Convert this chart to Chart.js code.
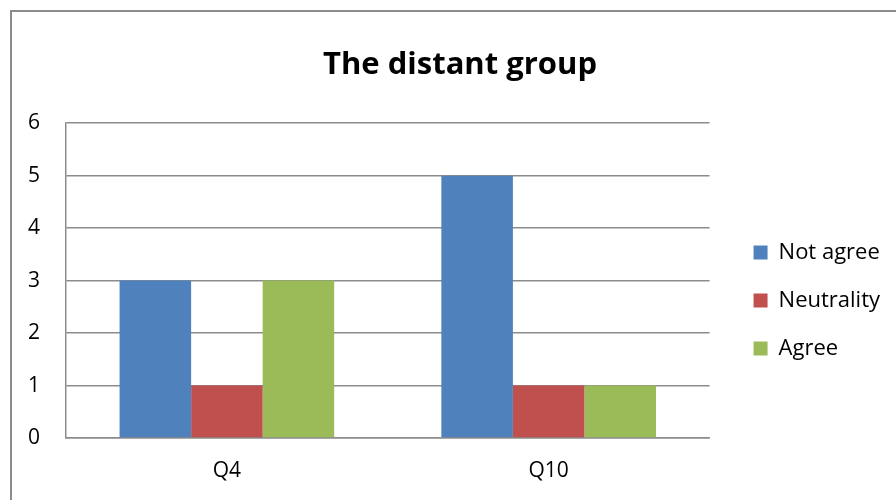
<!DOCTYPE html>
<html>
<head>
<meta charset="utf-8">
<script src="https://cdn.jsdelivr.net/npm/chart.js@4/dist/chart.umd.min.js"></script>
<style>
  body { margin: 0; background: #fff; }
  #wrap { position: relative; width: 896px; height: 500px; overflow: hidden; }
  #frame { position: absolute; left: 10px; top: 10px; width: 1000px; height: 600px; border: 2px solid #8c8c8c; }
  canvas { position: absolute; left: 0; top: 0; }
</style>
</head>
<body>
<div id="wrap">
  <div id="frame"></div>
  <canvas id="chart" width="896" height="500"></canvas>
</div>
<script>
const categories = ["Q4", "Q10"];
const notAgree = [3, 5];
const neutrality = [1, 1];
const agree = [3, 1];
const seriesNames = ["Not agree", "Neutrality", "Agree"];
const yTicks = [0, 1, 2, 3, 4, 5, 6];

const font = "'Open Sans', sans-serif";
const gridColor = "#8c8c8c";

// nudge legend and title a bit, like the Excel layout
const boxShift = {
    id: "boxShift",
    afterLayout: (chart) => {
        const lg = chart.legend;
        lg.left += 18; lg.right += 18;
        lg.top += 20; lg.bottom += 20;
        const tb = chart.titleBlock;
        tb.left += 12; tb.right += 12;
    },
};

const ctx = document.getElementById("chart").getContext("2d");

new Chart(ctx, {
    type: "bar",
    data: {
        labels: categories,
        datasets: [
            { label: seriesNames[0], data: notAgree, backgroundColor: "#4f81bd" },
            { label: seriesNames[1], data: neutrality, backgroundColor: "#c0504d" },
            { label: seriesNames[2], data: agree, backgroundColor: "#9bbb59" },
        ],
    },
    options: {
        responsive: false,
        animation: false,
        layout: { padding: { left: 24, top: 47, right: 24, bottom: 0 } },
        datasets: {
            bar: { barPercentage: 1, categoryPercentage: 0.667 },
        },
        plugins: {
            title: {
                display: true,
                text: "The distant group",
                color: "#000",
                font: { family: font, size: 31, weight: "bold" },
                padding: { top: 0, bottom: 39 },
            },
            legend: {
                position: "right",
                fullSize: false,
                labels: {
                    color: "#000",
                    font: { family: font, size: 22 },
                    boxWidth: 14,
                    boxHeight: 14,
                    padding: 26,
                },
            },
            tooltip: { enabled: false },
        },
        scales: {
            x: {
                afterFit: (scale) => {
                    scale.height = 62;
                },
                grid: { display: false, drawTicks: false },
                border: { color: gridColor, width: 1.5 },
                ticks: {
                    color: "#000",
                    font: { family: font, size: 21 },
                    padding: 20,
                },
            },
            y: {
                min: yTicks[0],
                max: yTicks[yTicks.length - 1],
                afterBuildTicks: (scale) => {
                    scale.ticks = yTicks.map((v) => ({ value: v }));
                },
                afterFit: (scale) => {
                    scale.width = 42;
                },
                grid: { color: gridColor, lineWidth: 1.5, drawTicks: false },
                border: { color: gridColor, width: 1.5 },
                ticks: {
                    color: "#000",
                    font: { family: font, size: 21 },
                    padding: 26,
                },
            },
        },
    },
    plugins: [boxShift],
});
</script>
</body>
</html>
